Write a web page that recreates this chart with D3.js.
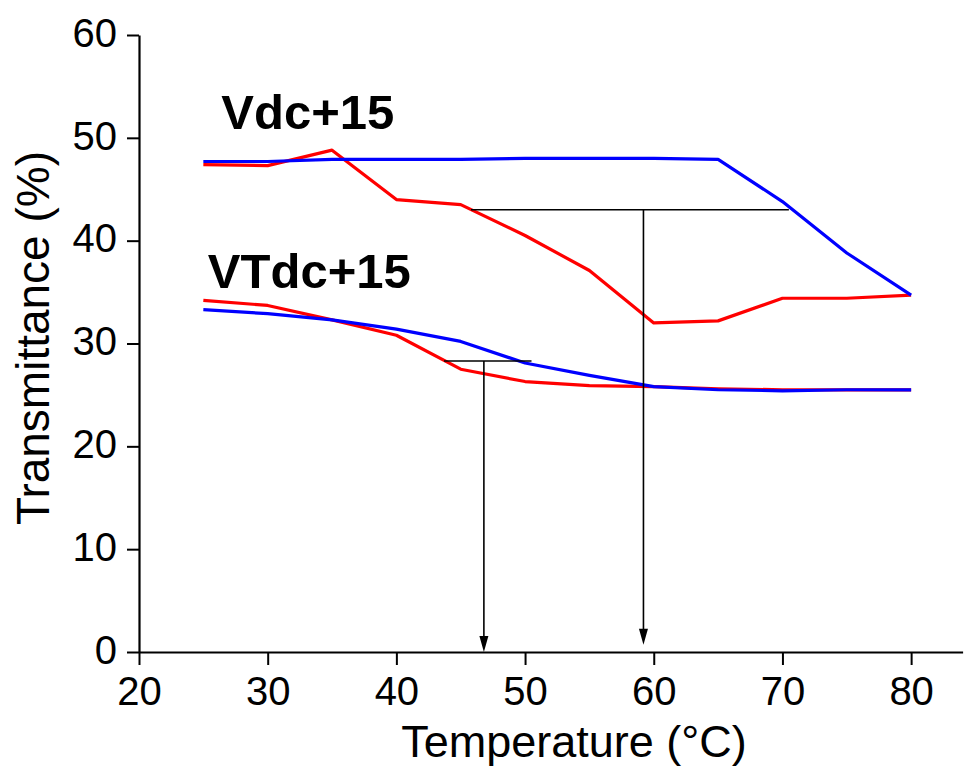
<!DOCTYPE html>
<html>
<head>
<meta charset="utf-8">
<style>
  body { margin: 0; background: #fff; }
  text { font-family: "Liberation Sans", Arial, sans-serif; }
</style>
</head>
<body>
<script src="https://d3js.org/d3.v7.min.js"></script>
<script>
  // temperatures (°C)
  var temps = [25, 30, 35, 40, 45, 50, 55, 60, 65, 70, 75, 80];

  // Vdc+15 curves
  var vdcBlue = [47.7, 47.7, 47.9, 47.9, 47.9, 48.0, 48.0, 48.0, 47.9, 43.8, 38.8, 34.7];
  var vdcRed  = [47.4, 47.3, 48.8, 44.0, 43.5, 40.5, 37.1, 32.0, 32.2, 34.4, 34.4, 34.7];

  // VTdc+15 curves
  var vtdcBlue = [33.3, 32.9, 32.3, 31.4, 30.2, 28.1, 26.9, 25.8, 25.5, 25.4, 25.5, 25.5];
  var vtdcRed  = [34.2, 33.7, 32.3, 30.8, 27.5, 26.3, 25.9, 25.8, 25.6, 25.5, 25.5, 25.5];

  // guide lines: horizontal level + vertical arrow down to the axis
  var guides = [
    {level: 43.0, from: 45.8, to: 70.5, arrowAt: 59.2, tip: 0.7},
    {level: 28.3, from: 43.7, to: 50.5, arrowAt: 46.8, tip: 0.0}
  ];

  var labels = [
    {text: "Vdc+15", t: 26.4, v: 50.9},
    {text: "VTdc+15", t: 25.35, v: 35.4}
  ];

  var xTicks = [20, 30, 40, 50, 60, 70, 80];
  var yTicks = [0, 10, 20, 30, 40, 50, 60];

  var width = 965, height = 769;

  var svg = d3.select("body")
    .append("svg")
    .attr("width", width)
    .attr("height", height);

  var x = d3.scaleLinear().domain([20, 84]).range([139, 962.6]);
  var y = d3.scaleLinear().domain([0, 60]).range([652, 35]);

  // axes
  var xAxis = svg.append("g")
    .attr("transform", "translate(0," + y(0) + ")")
    .call(d3.axisBottom(x).tickValues(xTicks).tickSize(13).tickPadding(12).tickSizeOuter(0));
  var yAxis = svg.append("g")
    .attr("transform", "translate(" + x(20) + ",0)")
    .call(d3.axisLeft(y).tickValues(yTicks).tickSize(12).tickPadding(10).tickSizeOuter(0));

  [xAxis, yAxis].forEach(function(a) {
    a.select(".domain").attr("stroke", "#000").attr("stroke-width", 2.2);
    a.selectAll(".tick line").attr("stroke", "#000").attr("stroke-width", 2);
    a.selectAll(".tick text")
      .attr("fill", "#000")
      .style("font-size", "40px")
      .style("font-family", "'Liberation Sans', Arial, sans-serif");
  });
  yAxis.selectAll(".tick text").attr("dy", "0.28em");
  xAxis.selectAll(".tick text").attr("dy", "0.71em");

  // axis titles
  svg.append("text")
    .attr("x", 574)
    .attr("y", 757)
    .attr("text-anchor", "middle")
    .style("font-size", "45px")
    .text("Temperature (°C)");

  svg.append("text")
    .attr("transform", "translate(49,338) rotate(-90)")
    .attr("text-anchor", "middle")
    .style("font-size", "46px")
    .text("Transmittance (%)");

  // curves
  var line = d3.line()
    .x(function(d) { return x(d[0]); })
    .y(function(d) { return y(d[1]); });

  var series = [
    {vals: vdcRed, color: "#ff0000"},
    {vals: vdcBlue, color: "#0000ff"},
    {vals: vtdcRed, color: "#ff0000"},
    {vals: vtdcBlue, color: "#0000ff"}
  ];

  svg.selectAll("path.curve")
    .data(series)
    .enter()
  .append("path")
    .attr("class", "curve")
    .attr("fill", "none")
    .attr("stroke", function(d) { return d.color; })
    .attr("stroke-width", 3.2)
    .attr("stroke-linejoin", "round")
    .attr("d", function(d) { return line(temps.map(function(t, i) { return [t, d.vals[i]]; })); });

  // guide lines and arrows
  var g = svg.selectAll("g.guide")
    .data(guides)
    .enter()
  .append("g")
    .attr("class", "guide");

  g.append("line")
    .attr("x1", function(d) { return x(d.from); })
    .attr("x2", function(d) { return x(d.to); })
    .attr("y1", function(d) { return y(d.level); })
    .attr("y2", function(d) { return y(d.level); })
    .attr("stroke", "#000")
    .attr("stroke-width", 1.6);

  g.append("line")
    .attr("x1", function(d) { return x(d.arrowAt); })
    .attr("x2", function(d) { return x(d.arrowAt); })
    .attr("y1", function(d) { return y(d.level); })
    .attr("y2", function(d) { return y(d.tip) - 10; })
    .attr("stroke", "#000")
    .attr("stroke-width", 1.6);

  g.append("path")
    .attr("fill", "#000")
    .attr("d", function(d) {
      var ax = x(d.arrowAt), ay = y(d.tip);
      return "M" + ax + "," + ay + "L" + (ax - 4.5) + "," + (ay - 16) + "L" + (ax + 4.5) + "," + (ay - 16) + "Z";
    });

  // series labels
  svg.selectAll("text.lbl")
    .data(labels)
    .enter()
  .append("text")
    .attr("class", "lbl")
    .attr("x", function(d) { return x(d.t); })
    .attr("y", function(d) { return y(d.v); })
    .style("font-size", "49px")
    .style("font-weight", "bold")
    .text(function(d) { return d.text; });
</script>
</body>
</html>
